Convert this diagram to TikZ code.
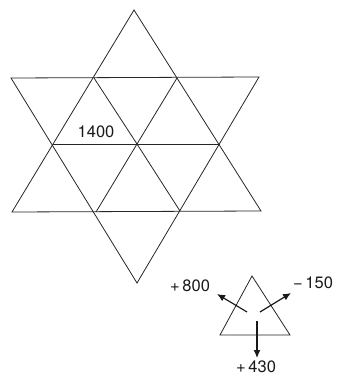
\documentclass[tikz,border=0pt]{standalone}
\usepackage{fontspec}
\setmainfont{TeX Gyre Heros}
\usetikzlibrary{arrows.meta}
\tikzset{
  gridline/.style={line width=0.8pt, draw=black!85},
  valarrow/.style={line width=1.2pt, draw=black!90, -{Latex[length=8pt,width=7pt]}},
  lab/.style={font=\fontsize{16.5}{16.5}\selectfont, text=black!90, inner sep=0pt}
}
\begin{document}
\begin{tikzpicture}[x=1pt,y=-1pt]
\useasboundingbox (0,0) rectangle (349,379);
% star vertices
\coordinate (T)  at (134,10);
\coordinate (UL) at (11,78);
\coordinate (UR) at (259,77);
\coordinate (LL) at (12,212);
\coordinate (LR) at (261,211);
\coordinate (B)  at (137,283);
\coordinate (a1) at (94,78);
\coordinate (a2) at (177,78);
\coordinate (ML) at (53,144);
\coordinate (MR) at (220,144);
\coordinate (C)  at (137,144);
\coordinate (b1) at (96,212);
\coordinate (b2) at (180,211);
% big triangles
\draw[gridline] (T) -- (LL) -- (LR) -- cycle;
\draw[gridline] (UL) -- (UR) -- (B) -- cycle;
% interior lines
\draw[gridline] (ML) -- (MR);
\draw[gridline] (a1) -- (C) -- (b2);
\draw[gridline] (a2) -- (C) -- (b1);
\node[lab] (v1400) at (96,132) {1400};
% small triangle
\coordinate (sT) at (252,276);
\coordinate (sL) at (220,335);
\coordinate (sR) at (290,335);
\draw[gridline] (sT) -- (sL) -- (sR) -- cycle;
\coordinate (s1) at (247,312);
\coordinate (e1) at (217,294);
\coordinate (s2) at (260,312);
\coordinate (e2) at (291,293);
\coordinate (s3) at (257,321);
\coordinate (e3) at (257,358);
\draw[valarrow] (s1) -- (e1);
\draw[valarrow] (s2) -- (e2);
\draw[valarrow] (s3) -- (e3);
\node[lab] (p800) at (190,286) {+\,800};
\node[lab] (m150) at (313,283) {−\,150};
\node[lab] (p430) at (256,367) {+\,430};
\end{tikzpicture}
\end{document}
